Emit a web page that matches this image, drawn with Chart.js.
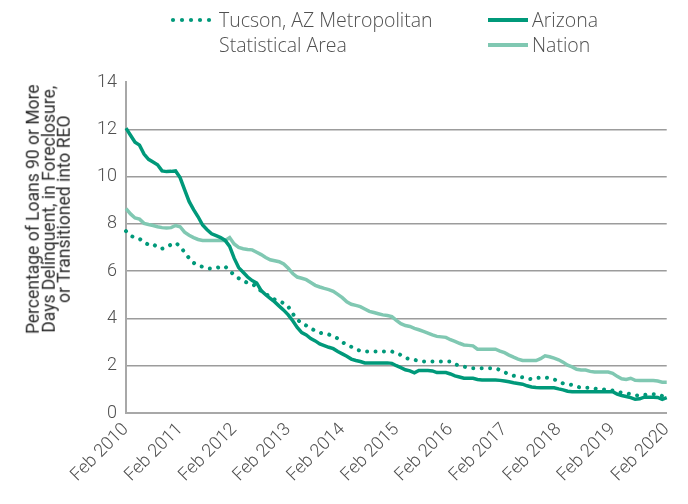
<!DOCTYPE html>
<html><head><meta charset="utf-8">
<script src="https://cdn.jsdelivr.net/npm/chart.js@4"></script>
<style>
html,body{margin:0;padding:0;background:#fff;}
#wrap{position:relative;width:688px;height:504px;overflow:hidden;font-family:Roboto,"Liberation Sans",sans-serif;font-weight:300;color:#555;}
canvas{position:absolute;left:0;top:0;}
.leg{position:absolute;font-family:"Open Sans",Roboto,sans-serif;font-size:19.5px;line-height:25px;white-space:nowrap;color:#505050;font-weight:300;}
.ytitle{position:absolute;left:-111px;top:186px;width:320px;text-align:center;font-size:17.5px;line-height:15.5px;transform:rotate(-90deg);white-space:nowrap;color:#2a2a2a;font-weight:400;}
</style></head>
<body>
<div id="wrap">
<canvas id="c" width="688" height="504"></canvas>
<svg style="position:absolute;left:170px;top:16px" width="46" height="8"><g fill="#00997A"><circle cx="3" cy="4" r="2.1"/><circle cx="12" cy="4" r="2.1"/><circle cx="21" cy="4" r="2.1"/><circle cx="30" cy="4" r="2.1"/><circle cx="39" cy="4" r="2.1"/></g></svg>
<div class="leg" style="left:219px;top:7px">Tucson, AZ Metropolitan<br>Statistical Area</div>
<div style="position:absolute;left:488px;top:18px;width:40px;height:4px;background:#00997A"></div>
<div class="leg" style="left:532px;top:7px">Arizona</div>
<div style="position:absolute;left:488px;top:43px;width:40px;height:4px;background:#80C8B2"></div>
<div class="leg" style="left:532px;top:32px">Nation</div>
<div class="ytitle">Percentage of Loans 90 or More<br>Days Delinquent, in Foreclosure,<br>or Transitioned into REO</div>
</div>
<script>
// Monthly values, Feb 2010 .. Feb 2020 (121 months)
const tucson = [7.69,7.5,7.42,7.37,7.22,7.12,7.15,7.0,6.95,7.03,7.12,7.2,
7.05,6.8,6.55,6.35,6.25,6.18,6.12,6.1,6.14,6.18,6.2,6.0,
5.85,5.7,5.6,5.5,5.45,5.35,5.15,5.03,4.92,4.8,4.72,4.65,
4.5,4.2,3.95,3.8,3.7,3.58,3.48,3.4,3.35,3.32,3.25,3.15,
3.0,2.88,2.8,2.7,2.63,2.6,2.6,2.6,2.6,2.6,2.6,2.6,
2.55,2.45,2.33,2.28,2.25,2.2,2.18,2.18,2.18,2.18,2.18,2.18,
2.18,2.07,2.0,1.96,1.92,1.89,1.89,1.89,1.89,1.89,1.89,1.82,
1.72,1.65,1.58,1.54,1.51,1.47,1.43,1.47,1.5,1.5,1.48,1.42,
1.35,1.25,1.22,1.19,1.12,1.07,1.07,1.07,1.03,1.0,1.0,0.98,
0.95,0.9,0.86,0.83,0.8,0.75,0.73,0.76,0.79,0.8,0.78,0.72,
0.72];
const arizona = [12.05,11.75,11.45,11.33,10.95,10.73,10.62,10.5,10.24,10.21,10.22,10.24,
9.96,9.45,8.95,8.6,8.3,7.95,7.75,7.58,7.5,7.42,7.3,7.05,
6.55,6.15,5.95,5.75,5.6,5.5,5.18,5.0,4.85,4.7,4.52,4.35,
4.15,3.9,3.62,3.4,3.3,3.15,3.05,2.92,2.85,2.78,2.72,2.6,
2.5,2.4,2.28,2.22,2.18,2.12,2.12,2.12,2.12,2.12,2.12,2.1,
2.0,1.92,1.83,1.78,1.7,1.8,1.8,1.8,1.78,1.71,1.71,1.71,
1.65,1.57,1.52,1.47,1.47,1.47,1.42,1.4,1.4,1.4,1.4,1.38,
1.35,1.32,1.28,1.25,1.22,1.15,1.1,1.08,1.07,1.07,1.07,1.07,
1.02,0.98,0.92,0.9,0.9,0.9,0.9,0.9,0.9,0.9,0.9,0.9,
0.9,0.8,0.74,0.7,0.65,0.58,0.6,0.67,0.67,0.67,0.66,0.58,
0.65];
const nation = [8.64,8.42,8.25,8.2,8.02,7.97,7.93,7.88,7.84,7.82,7.84,7.93,
7.88,7.65,7.52,7.42,7.34,7.3,7.3,7.3,7.3,7.3,7.3,7.42,
7.15,7.0,6.95,6.92,6.9,6.8,6.7,6.58,6.48,6.44,6.4,6.3,
6.12,5.9,5.75,5.7,5.64,5.52,5.4,5.33,5.27,5.22,5.15,5.02,
4.88,4.7,4.6,4.55,4.5,4.4,4.3,4.25,4.2,4.15,4.12,4.08,
3.92,3.78,3.7,3.66,3.58,3.52,3.45,3.38,3.3,3.24,3.22,3.2,
3.1,3.03,2.95,2.88,2.86,2.84,2.7,2.7,2.7,2.7,2.7,2.62,
2.55,2.45,2.36,2.28,2.22,2.22,2.22,2.22,2.3,2.42,2.38,2.32,
2.25,2.15,2.02,1.95,1.85,1.82,1.82,1.76,1.73,1.73,1.73,1.73,
1.68,1.55,1.45,1.42,1.47,1.38,1.37,1.37,1.37,1.37,1.35,1.3,
1.3];
const tickLabels = ['Feb 2010','Feb 2011','Feb 2012','Feb 2013','Feb 2014','Feb 2015','Feb 2016','Feb 2017','Feb 2018','Feb 2019','Feb 2020'];
const monthNames = ['Jan','Feb','Mar','Apr','May','Jun','Jul','Aug','Sep','Oct','Nov','Dec'];
const months = [];
for (let m = 0; m < tucson.length; m++) {
  const k = m + 1;
  months.push(monthNames[k % 12] + ' ' + (2010 + Math.floor(k / 12)));
}
const DARK = '#00997A', LIGHT = '#80C8B2';
const fontFam = 'Roboto, "Liberation Sans", sans-serif';
new Chart(document.getElementById('c'), {
  type: 'line',
  data: {
    labels: months,
    datasets: [
      {label: 'Tucson, AZ Metropolitan Statistical Area', data: tucson, borderColor: DARK, borderWidth: 4,
       borderDash: [0.01, 8.4], borderCapStyle: 'round', pointRadius: 0, tension: 0, fill: false},
      {label: 'Arizona', data: arizona, borderColor: DARK, borderWidth: 3.5, pointRadius: 0, tension: 0, fill: false},
      {label: 'Nation', data: nation, borderColor: LIGHT, borderWidth: 3.5, pointRadius: 0, tension: 0, fill: false}
    ]
  },
  options: {
    responsive: false,
    animation: false,
    layout: {padding: {top: 82, right: 2, left: 0, bottom: 0}},
    plugins: {legend: {display: false}, tooltip: {enabled: false}},
    scales: {
      x: {
        grid: {display: false, drawTicks: false},
        border: {display: true, color: '#a8a8a8', width: 2},
        ticks: {
          autoSkip: false, minRotation: 45, maxRotation: 45, padding: 6,
          color: '#505050', font: {family: fontFam, size: 18, weight: 300},
          callback: (v, i) => (i % 12 === 0 ? tickLabels[i / 12] : '')
        },
        afterFit: s => { s.height = 91; }
      },
      y: {
        min: 0, max: 14,
        grid: {drawTicks: false, lineWidth: 1.4, color: c => (c.tick && c.tick.value === 14 ? 'rgba(0,0,0,0)' : '#9c9c9c')},
        border: {display: true, color: '#a8a8a8', width: 2},
        ticks: {stepSize: 2, padding: 9, color: '#505050', font: {family: fontFam, size: 18, weight: 300}},
        afterFit: s => { s.width = 126; }
      }
    }
  }
});
</script>
</body></html>
